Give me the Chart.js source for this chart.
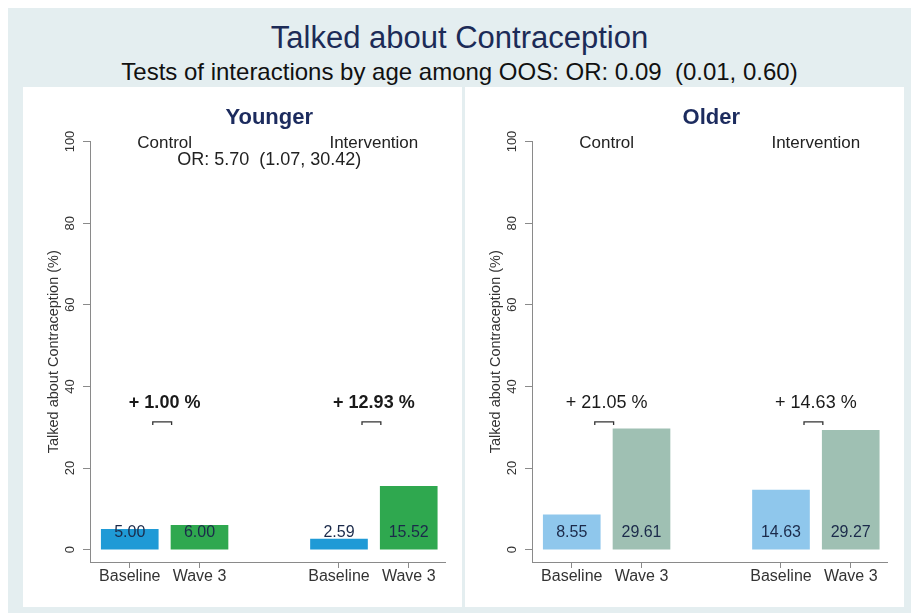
<!DOCTYPE html>
<html>
<head>
<meta charset="utf-8">
<script src="https://cdn.jsdelivr.net/npm/chart.js@4.4.1/dist/chart.umd.min.js"></script>
<style>
    html, body { margin: 0; padding: 0; background: #fff; }
    #page { position: relative; width: 911px; height: 615px; overflow: hidden; font-family: "Liberation Sans", Arial, sans-serif; }
    #bg { position: absolute; left: 8px; top: 8px; right: 0; bottom: 2px; background: #e4eef0; }
    .title { position: absolute; left: 8px; right: 0; text-align: center; white-space: nowrap; }
    #t1 { top: 20px; font-size: 31px; line-height: 36px; color: #1c2b57; }
    #t2 { top: 58px; font-size: 24px; line-height: 28px; color: #111; }
    .panel { position: absolute; top: 87px; width: 439px; height: 520px; background: #fff; }
</style>
</head>
<body>
<div id="page">
    <div id="bg"></div>
    <div class="title" id="t1">Talked about Contraception</div>
    <div class="title" id="t2">Tests of interactions by age among OOS: OR: 0.09&nbsp; (0.01, 0.60)</div>
    <div class="panel" style="left:23px"><canvas id="younger" width="439" height="520"></canvas></div>
    <div class="panel" style="left:465px"><canvas id="older" width="439" height="520"></canvas></div>
</div>
<script>
// ─── Data ─────────────────────────────────────────────────────────────────────
const waves = ["Baseline", "Wave 3"];
const arms = ["Control", "Intervention"];
const xPos = [1, 2, 4, 5];                       // Control: 1,2  Intervention: 4,5
const youngerPct = [5.00, 6.00, 2.59, 15.52];
const olderPct = [8.55, 29.61, 14.63, 29.27];
const youngerChange = [1.00, 12.93];
const olderChange = [21.05, 14.63];
const youngerOR = "OR: 5.70  (1.07, 30.42)";
const yTicks = [0, 20, 40, 60, 80, 100];

const FONT = "'Liberation Sans', Arial, sans-serif";
const AXIS_GREY = "#8a8a8a";

// ─── Annotation plugin: labels, tick text, brackets ───────────────────────────
const panelText = {
    id: "panelText",
    afterDraw(chart, args, o) {
        const ctx = chart.ctx;
        const xs = chart.scales.x, ys = chart.scales.y;
        const area = chart.chartArea;
        const px = v => xs.getPixelForValue(v);
        const py = v => ys.getPixelForValue(v);
        ctx.save();
        ctx.textAlign = "center";
        ctx.textBaseline = "middle";

        // panel title
        ctx.fillStyle = "#1c2b5e";
        ctx.font = `bold 22px ${FONT}`;
        ctx.fillText(o.name, px(3), 31);

        // y tick labels (vertical, Stata style)
        ctx.fillStyle = "#333";
        ctx.font = `13px ${FONT}`;
        yTicks.forEach(t => {
            ctx.save();
            ctx.translate(area.left - 20, py(t));
            ctx.rotate(-Math.PI / 2);
            ctx.fillText(String(t), 0, 0);
            ctx.restore();
        });
        ctx.font = `14.5px ${FONT}`;
        ctx.save();
        ctx.translate(area.left - 36, (area.top + area.bottom) / 2);
        ctx.rotate(-Math.PI / 2);
        ctx.fillText("Talked about Contraception (%)", 0, 0);
        ctx.restore();

        // x tick labels
        ctx.font = `16px ${FONT}`;
        xPos.forEach((p, i) => ctx.fillText(waves[i % 2], px(p), area.bottom + 15));

        // arm labels + OR
        ctx.fillStyle = "#222";
        ctx.font = `17px ${FONT}`;
        ctx.fillText(arms[0], px(1.5), py(99.6));
        ctx.fillText(arms[1], px(4.5), py(99.6));
        ctx.font = `18px ${FONT}`;
        if (o.or) ctx.fillText(o.or, px(3), py(95.4));

        // values inside bars
        ctx.fillStyle = "#1b2a4a";
        ctx.font = `16px ${FONT}`;
        o.values.forEach((v, i) => ctx.fillText(v.toFixed(2), px(xPos[i]), py(4.1)));

        // change labels + brackets
        ctx.fillStyle = "#1a1a1a";
        ctx.font = `${o.bold ? "bold " : ""}18px ${FONT}`;
        o.change.forEach((c, i) => {
            const base = i === 0 ? 1 : 4;
            ctx.fillText(`+ ${c.toFixed(2)} %`, px(base + 0.5), py(36));
            const x1 = px(base + 0.33), x2 = px(base + 0.6), yb = py(31.3);
            ctx.strokeStyle = "#333";
            ctx.lineWidth = 1.3;
            ctx.beginPath();
            ctx.moveTo(x1, yb + 3);
            ctx.lineTo(x1, yb);
            ctx.lineTo(x2, yb);
            ctx.lineTo(x2, yb + 3);
            ctx.stroke();
        });
        ctx.restore();
    },
};

function makePanel(id, name, values, change, colors, bold, or) {
    return new Chart(document.getElementById(id), {
        type: "bar",
        data: {
            datasets: [{
                data: values.map((v, i) => ({ x: xPos[i], y: v })),
                backgroundColor: values.map((v, i) => colors[i % 2]),
                borderWidth: 0,
                barThickness: 57,
            }],
        },
        options: {
            responsive: false,
            animation: false,
            devicePixelRatio: 1,
            layout: { padding: { top: 54.5, right: 17, left: 0, bottom: 0 } },
            plugins: {
                legend: { display: false },
                tooltip: { enabled: false },
                panelText: { name, values, change, bold, or },
            },
            scales: {
                x: {
                    type: "linear",
                    offset: false,
                    min: 0.43,
                    max: 5.52,
                    afterBuildTicks: s => { s.ticks = xPos.map(v => ({ value: v })); },
                    afterFit: s => { s.height = 45; },
                    ticks: { display: false },
                    grid: { drawOnChartArea: false, offset: false, tickLength: 6, color: AXIS_GREY },
                    border: { color: AXIS_GREY, width: 1 },
                },
                y: {
                    min: -3,
                    max: 100,
                    afterBuildTicks: s => { s.ticks = yTicks.map(v => ({ value: v })); },
                    afterFit: s => { s.width = 67; },
                    ticks: { display: false },
                    grid: { drawOnChartArea: false, tickLength: 7, color: AXIS_GREY },
                    border: { color: AXIS_GREY, width: 1 },
                },
            },
        },
        plugins: [panelText],
    });
}

makePanel("younger", "Younger", youngerPct, youngerChange, ["#1f9ad6", "#2fa84f"], true, youngerOR);
makePanel("older", "Older", olderPct, olderChange, ["#8fc7ec", "#9fc0b3"], false, null);
</script>
</body>
</html>
